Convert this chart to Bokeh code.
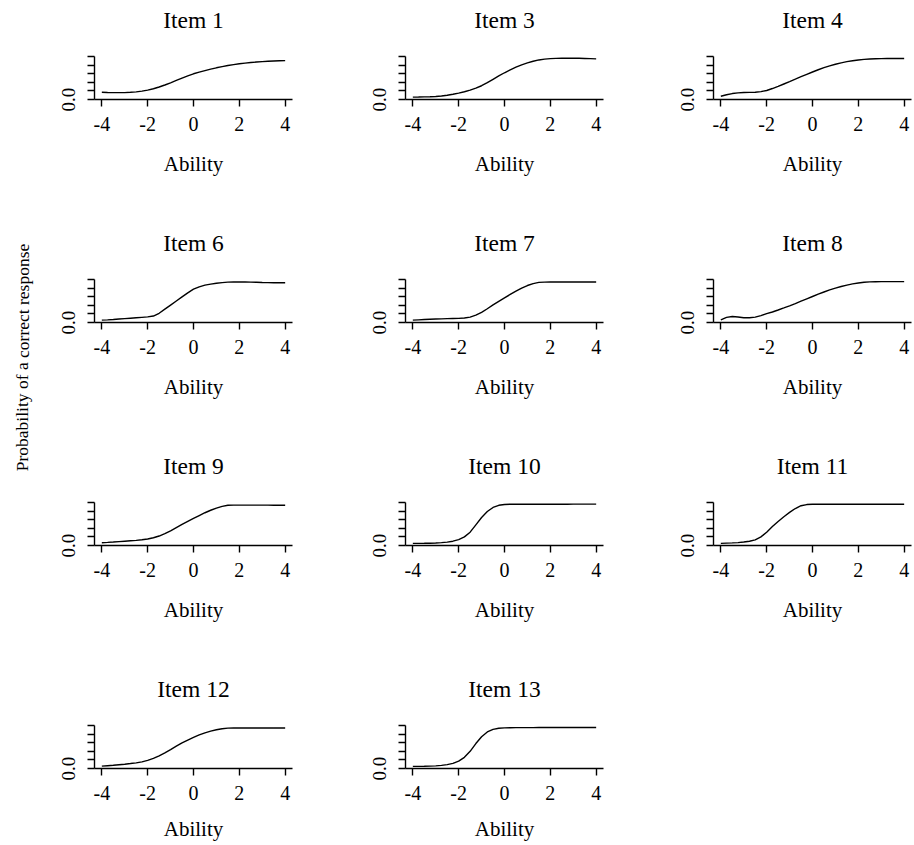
from bokeh.plotting import figure
from bokeh.models import Range1d, FixedTicker, LinearAxis
from bokeh.layouts import row, column
from bokeh.embed import file_html
from bokeh.resources import INLINE
from bokeh.core.properties import value

# ---------------- data ----------------
ability = [-4.0, -3.75, -3.5, -3.25, -3.0, -2.75, -2.5, -2.25, -2.0, -1.75, -1.5,
           -1.25, -1.0, -0.75, -0.5, -0.25, 0.0, 0.25, 0.5, 0.75, 1.0, 1.25, 1.5,
           1.75, 2.0, 2.25, 2.5, 2.75, 3.0, 3.25, 3.5, 3.75, 4.0]

item_1 = [.170, .163, .160, .159, .160, .167, .178, .195, .218, .250, .290, .337, .388,
          .443, .497, .550, .598, .637, .672, .706, .737, .765, .790, .811, .830, .846,
          .860, .871, .880, .888, .894, .900, .905]
item_3 = [.055, .057, .060, .064, .071, .083, .100, .122, .148, .180, .218, .264, .320,
          .392, .470, .548, .622, .690, .752, .805, .850, .890, .920, .938, .950, .957,
          .960, .961, .960, .958, .955, .950, .945]
item_4 = [.075, .110, .138, .155, .163, .166, .170, .184, .210, .255, .305, .360, .415,
          .472, .530, .586, .640, .692, .740, .783, .820, .853, .880, .902, .920, .932,
          .941, .947, .951, .953, .955, .955, .955]
item_6 = [.055, .062, .070, .080, .090, .100, .110, .120, .130, .150, .215, .310, .405,
          .500, .595, .690, .775, .830, .868, .893, .912, .928, .938, .943, .945, .943,
          .940, .935, .930, .927, .925, .924, .924]
item_7 = [.055, .062, .069, .075, .080, .085, .089, .093, .097, .105, .125, .170, .235,
          .320, .408, .492, .572, .652, .730, .800, .860, .905, .932, .940, .942, .942,
          .942, .942, .942, .942, .942, .942, .942]
item_8 = [.062, .120, .138, .128, .112, .110, .125, .160, .205, .245, .290, .338, .388,
          .440, .495, .550, .605, .660, .710, .757, .800, .838, .870, .898, .920, .935,
          .944, .948, .950, .950, .950, .950, .950]
item_9 = [.065, .072, .080, .090, .100, .110, .120, .133, .150, .180, .220, .275, .340,
          .415, .490, .562, .630, .697, .762, .820, .870, .910, .935, .940, .940, .940,
          .940, .940, .940, .938, .937, .936, .935]
item_10 = [.050, .050, .051, .054, .059, .066, .078, .100, .138, .200, .310, .480, .650,
           .790, .885, .935, .955, .960, .960, .960, .960, .960, .960, .961, .961, .961,
           .961, .961, .962, .962, .962, .962, .962]
item_11 = [.050, .055, .060, .068, .080, .100, .130, .200, .310, .440, .560, .670, .770,
           .860, .925, .952, .958, .960, .960, .960, .960, .960, .960, .960, .960, .960,
           .960, .960, .960, .960, .960, .960, .960]
item_12 = [.055, .065, .075, .088, .100, .115, .132, .155, .190, .235, .295, .365, .440,
           .520, .595, .662, .722, .780, .830, .870, .900, .925, .940, .943, .943, .943,
           .943, .943, .943, .943, .942, .942, .942]
item_13 = [.050, .050, .052, .056, .062, .072, .090, .120, .170, .260, .400, .580, .740,
           .850, .910, .935, .945, .948, .950, .950, .951, .951, .952, .952, .953, .953,
           .953, .954, .954, .954, .955, .955, .955]

item_names = ["Item 1", "Item 3", "Item 4", "Item 6", "Item 7", "Item 8",
              "Item 9", "Item 10", "Item 11", "Item 12", "Item 13"]
item_curves = [item_1, item_3, item_4, item_6, item_7, item_8,
               item_9, item_10, item_11, item_12, item_13]

x_ticks = [-4, -2, 0, 2, 4]
x_tick_labels = ["-4", "-2", "0", "2", "4"]
y_ticks = [0.0, 0.2, 0.4, 0.6, 0.8, 1.0]
y_tick_labels = ["0.0", "", "", "", "", ""]
x_label = "Ability"
y_label = "Probability of a correct response"

# ---------------- layout / style ----------------
FONT = "Liberation Serif"
STRIP_W = 46
LEFT = 48
FRAME_W = 198
COL_WIDTHS = [311, 308, 249]
TOP = 56
FRAME_H = 43
ROW_H = 223
LAST_BOTTOM = 77
N_COLS = 3
TOTAL_H = 845


def make_panel(name, curve, col, last_row):
    width = COL_WIDTHS[col]
    height = TOP + FRAME_H + LAST_BOTTOM if last_row else ROW_H
    p = figure(width=width, height=height, output_backend="svg", toolbar_location=None,
               x_range=Range1d(-4.32, 4.32), y_range=Range1d(0, 1),
               min_border_left=LEFT, min_border_right=width - LEFT - FRAME_W,
               min_border_top=TOP, min_border_bottom=height - TOP - FRAME_H)
    p.outline_line_color = None
    p.xgrid.visible = False
    p.ygrid.visible = False
    p.background_fill_color = "white"
    p.border_fill_color = "white"

    for ax in (p.xaxis[0], p.yaxis[0]):
        ax.axis_line_color = "black"
        ax.axis_line_width = 1.4
        ax.major_tick_line_color = "black"
        ax.major_tick_line_width = 1.4
        ax.major_tick_in = 0
        ax.major_tick_out = 7
        ax.minor_tick_line_color = None
        ax.major_label_text_font = FONT
        ax.major_label_text_color = "black"

    xa = p.xaxis[0]
    xa.ticker = FixedTicker(ticks=x_ticks)
    xa.major_label_overrides = dict(zip(x_ticks, x_tick_labels))
    xa.major_label_text_font_size = "20px"
    xa.major_label_standoff = 10
    xa.axis_label = x_label
    xa.axis_label_text_font = FONT
    xa.axis_label_text_font_size = "21px"
    xa.axis_label_text_font_style = "normal"
    xa.axis_label_text_color = "black"
    xa.axis_label_standoff = 14 if last_row else 18

    ya = p.yaxis[0]
    ya.ticker = FixedTicker(ticks=y_ticks)
    ya.major_label_overrides = dict(zip(y_ticks, y_tick_labels))
    ya.major_label_orientation = "vertical"
    ya.major_label_text_font_size = "19px"
    ya.major_label_standoff = 13

    # panel heading, carried by a bare axis above the panel
    head = LinearAxis(ticker=FixedTicker(ticks=[]), axis_label=name,
                      axis_line_color=None, major_tick_line_color=None,
                      minor_tick_line_color=None, major_tick_in=0, major_tick_out=0,
                      major_label_standoff=0, axis_label_standoff=24,
                      axis_label_text_font=FONT, axis_label_text_font_size="23.5px",
                      axis_label_text_font_style="normal", axis_label_text_color="black")
    p.add_layout(head, "above")

    p.line(ability, curve, line_color="black", line_width=1.4)
    return p


panels = []
n = len(item_names)
last_r = (n - 1) // N_COLS
for i, (name, curve) in enumerate(zip(item_names, item_curves)):
    panels.append(make_panel(name, curve, i % N_COLS, i // N_COLS == last_r))

rows = [row(*panels[k:k + N_COLS]) for k in range(0, n, N_COLS)]
grid = column(*rows)

strip = figure(width=STRIP_W, height=TOTAL_H, output_backend="svg", toolbar_location=None,
               x_range=Range1d(0, 1), y_range=Range1d(0, 1),
               min_border_left=0, min_border_right=0,
               min_border_top=0, min_border_bottom=0)
strip.axis.visible = False
strip.grid.visible = False
strip.outline_line_color = None
strip.text(x=[22 / STRIP_W], y=[1 - 357 / TOTAL_H], text=[y_label], angle=1.5707963,
           text_align="center", text_baseline="middle",
           text_font=value(FONT), text_font_size="17.5px", text_color="black")

layout = row(strip, grid)

open("out.html", "w").write(file_html(layout, INLINE))
